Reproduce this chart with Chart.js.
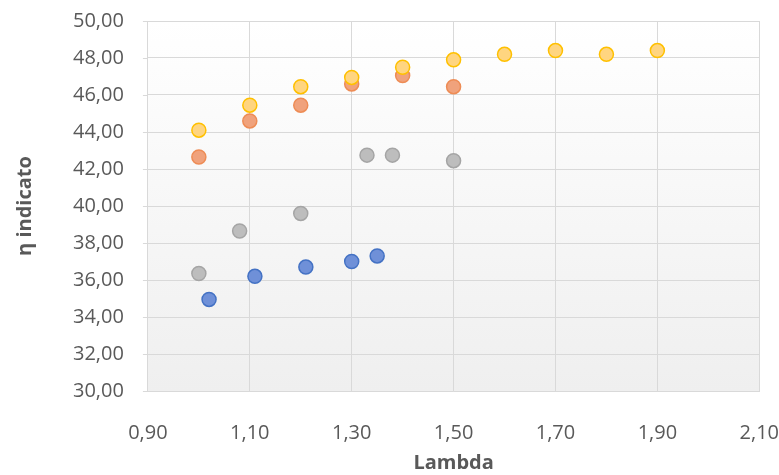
<!DOCTYPE html>
<html>
<head>
<meta charset="utf-8">
<script src="https://cdn.jsdelivr.net/npm/chart.js@4"></script>
<style>
  html, body { margin: 0; padding: 0; background: #fff; }
  #wrap { width: 779px; height: 475px; }
</style>
</head>
<body>
<div id="wrap"><canvas id="myChart" width="779" height="475"></canvas></div>
<script>
// lambda / eta readings, one array pair per series
let blueX = [1.02, 1.11, 1.21, 1.30, 1.35];
let blueY = [34.95, 36.2, 36.7, 37.0, 37.3];

let greyX = [1.00, 1.08, 1.20, 1.33, 1.38, 1.50];
let greyY = [36.35, 38.65, 39.6, 42.75, 42.75, 42.45];

let orangeX = [1.00, 1.10, 1.20, 1.30, 1.40, 1.50];
let orangeY = [42.65, 44.6, 45.45, 46.6, 47.05, 46.45];

let yellowX = [1.00, 1.10, 1.20, 1.30, 1.40, 1.50, 1.60, 1.70, 1.80, 1.90];
let yellowY = [44.1, 45.45, 46.45, 46.95, 47.5, 47.9, 48.2, 48.4, 48.2, 48.4];

let xTicks = [0.9, 1.1, 1.3, 1.5, 1.7, 1.9, 2.1];
let yMin = 30, yMax = 50, yStep = 2;

function pts(xs, ys) {
    return xs.map((x, i) => ({ x: x, y: ys[i] }));
}

function comma(v) {
    return Number(v).toFixed(2).replace('.', ',');
}

// light grey gradient behind the plot area
const plotBg = {
    id: 'plotBg',
    beforeDraw(chart) {
        let a = chart.chartArea;
        let c = chart.ctx;
        let g = c.createLinearGradient(0, a.top, 0, a.bottom);
        g.addColorStop(0, '#ffffff');
        g.addColorStop(1, '#efefef');
        c.save();
        c.fillStyle = g;
        c.fillRect(a.left, a.top, a.right - a.left, a.bottom - a.top);
        c.restore();
    }
};

// short tick marks on the left of the value axis
const yMarks = {
    id: 'yMarks',
    afterDraw(chart) {
        let s = chart.scales.y;
        let c = chart.ctx;
        let x0 = chart.chartArea.left;
        c.save();
        c.strokeStyle = '#d9d9d9';
        c.lineWidth = 1;
        s.ticks.forEach((t, i) => {
            let y = Math.round(s.getPixelForTick(i)) + 0.5;
            c.beginPath();
            c.moveTo(x0 - 5, y);
            c.lineTo(x0, y);
            c.stroke();
        });
        c.restore();
    }
};

const font = "'Open Sans', sans-serif";

let ctx = document.getElementById('myChart').getContext('2d');

let chart = new Chart(ctx, {
    type: 'scatter',
    data: {
        datasets: [
            {
                label: 'serie 1',
                data: pts(blueX, blueY),
                backgroundColor: '#6f90d8',
                borderColor: '#4472c4',
                order: 3,
            },
            {
                label: 'serie 2',
                data: pts(greyX, greyY),
                backgroundColor: '#bdbdbd',
                borderColor: '#a5a5a5',
                order: 2,
            },
            {
                label: 'serie 3',
                data: pts(orangeX, orangeY),
                backgroundColor: '#f0a27c',
                borderColor: '#ee8c55',
                order: 1,
            },
            {
                label: 'serie 4',
                data: pts(yellowX, yellowY),
                backgroundColor: '#ffd580',
                borderColor: '#ffc000',
                order: 0,
            },
        ]
    },
    options: {
        responsive: false,
        animation: false,
        elements: {
            point: { radius: 7, borderWidth: 1.5, hoverRadius: 7 }
        },
        layout: {
            padding: { left: 13, right: 0, top: 21, bottom: 0 }
        },
        plugins: {
            legend: { display: false },
            tooltip: { enabled: false },
        },
        scales: {
            x: {
                type: 'linear',
                min: 0.9,
                max: 2.1,
                afterBuildTicks: (axis) => { axis.ticks = xTicks.map(v => ({ value: v })); },
                grid: { color: '#d9d9d9', lineWidth: 1, tickLength: 30, tickColor: 'transparent' },
                border: { color: '#d9d9d9' },
                ticks: {
                    callback: (v) => comma(v),
                    color: '#595959',
                    padding: 0,
                    maxRotation: 0,
                    font: { family: font, size: 20 },
                },
                title: {
                    display: true,
                    text: 'Lambda',
                    color: '#595959',
                    padding: { top: 6, bottom: 0 },
                    font: { family: font, size: 20, weight: 'bold' },
                },
            },
            y: {
                min: yMin,
                max: yMax,
                ticks: {
                    stepSize: yStep,
                    callback: (v) => comma(v),
                    color: '#595959',
                    padding: 0,
                    font: { family: font, size: 20 },
                },
                grid: { color: '#d9d9d9', lineWidth: 1, tickLength: 24, tickColor: 'transparent' },
                border: { color: '#d9d9d9' },
                title: {
                    display: true,
                    text: 'η indicato',
                    color: '#595959',
                    padding: { top: 0, bottom: 36 },
                    font: { family: font, size: 20, weight: 'bold' },
                },
            },
        },
    },
    plugins: [plotBg, yMarks],
});
</script>
</body>
</html>
